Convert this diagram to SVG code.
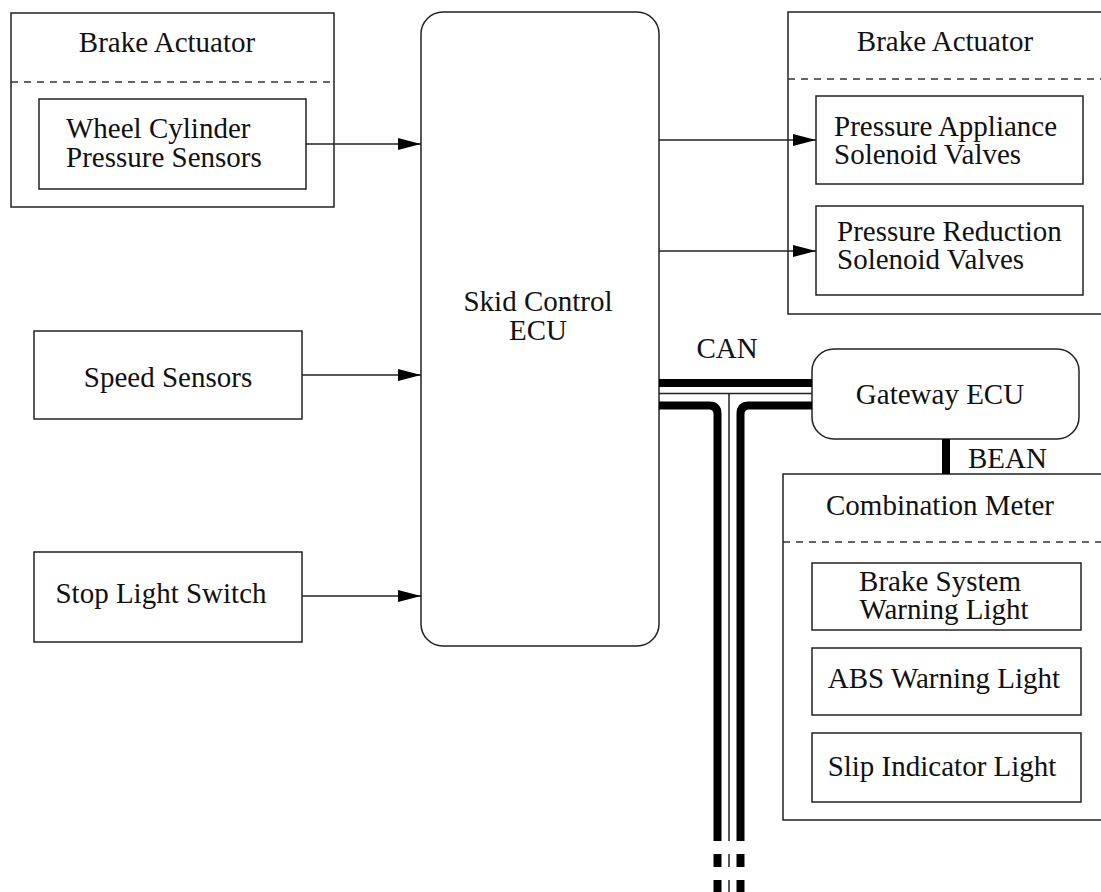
<svg xmlns="http://www.w3.org/2000/svg" width="1101" height="892" viewBox="0 0 1101 892">
<style>
.box{fill:#fff;stroke:#222;stroke-width:1.5}
.dash{fill:none;stroke:#333;stroke-width:1.3;stroke-dasharray:7,6}
.t{font-family:"Liberation Serif","Times New Roman",serif;font-size:29px;fill:#111}
.m{text-anchor:middle}
.ln{fill:none;stroke:#222;stroke-width:1.5}
.bus{fill:none;stroke:#000;stroke-width:8}
.thin{fill:none;stroke:#222;stroke-width:1.5}
</style>
<defs>
<marker id="arr" markerUnits="userSpaceOnUse" markerWidth="24" markerHeight="12" refX="23" refY="6" orient="auto">
<path d="M0,0 L23,6 L0,12 z" fill="#000"/>
</marker>
</defs>
<rect width="1101" height="892" fill="#fff"/>

<g id="brake-actuator-left">
<rect class="box" x="11" y="13" width="323" height="194"/>
<text class="t m" x="167" y="52">Brake Actuator</text>
<line class="dash" x1="11" y1="82" x2="334" y2="82"/>
</g>
<g id="wheel-cylinder">
<rect class="box" x="39" y="99" width="267" height="90"/>
<text class="t" x="66" y="138">Wheel Cylinder</text>
<text class="t" x="66" y="167">Pressure Sensors</text>
</g>
<g id="speed-sensors">
<rect class="box" x="34" y="331" width="268" height="88"/>
<text class="t m" x="168" y="387">Speed Sensors</text>
</g>
<g id="stop-light-switch">
<rect class="box" x="34" y="552" width="268" height="90"/>
<text class="t m" x="161" y="603">Stop Light Switch</text>
</g>
<g id="skid-control-ecu">
<rect class="box" x="421" y="12" width="238" height="634" rx="22" ry="22"/>
<text class="t m" x="538" y="311">Skid Control</text>
<text class="t m" x="538" y="340">ECU</text>
</g>
<g id="brake-actuator-right">
<rect class="box" x="788" y="12" width="330" height="302"/>
<text class="t m" x="945" y="51">Brake Actuator</text>
<line class="dash" x1="788" y1="79" x2="1101" y2="79"/>
</g>
<g id="pressure-appliance">
<rect class="box" x="816" y="96" width="267" height="88"/>
<text class="t" x="834" y="136">Pressure Appliance</text>
<text class="t" x="834" y="164">Solenoid Valves</text>
</g>
<g id="pressure-reduction">
<rect class="box" x="816" y="206" width="267" height="89"/>
<text class="t" x="837" y="241">Pressure Reduction</text>
<text class="t" x="837" y="269">Solenoid Valves</text>
</g>
<g id="gateway-ecu">
<rect class="box" x="812" y="349" width="267" height="90" rx="22" ry="22"/>
<text class="t m" x="940" y="404">Gateway ECU</text>
</g>
<g id="combination-meter">
<rect class="box" x="783" y="474" width="335" height="346"/>
<text class="t m" x="940" y="515">Combination Meter</text>
<line class="dash" x1="783" y1="542" x2="1101" y2="542"/>
</g>
<g id="brake-system-warning">
<rect class="box" x="812" y="563" width="269" height="67"/>
<text class="t m" x="940" y="591">Brake System</text>
<text class="t m" x="944" y="619">Warning Light</text>
</g>
<g id="abs-warning">
<rect class="box" x="812" y="648" width="269" height="67"/>
<text class="t m" x="944" y="688">ABS Warning Light</text>
</g>
<g id="slip-indicator">
<rect class="box" x="812" y="733" width="269" height="69"/>
<text class="t m" x="942" y="776">Slip Indicator Light</text>
</g>

<g id="connectors">
<line class="ln" x1="306" y1="144" x2="421" y2="144" marker-end="url(#arr)"/>
<line class="ln" x1="302" y1="375" x2="421" y2="375" marker-end="url(#arr)"/>
<line class="ln" x1="302" y1="596" x2="421" y2="596" marker-end="url(#arr)"/>
<line class="ln" x1="659" y1="140" x2="816" y2="140" marker-end="url(#arr)"/>
<line class="ln" x1="659" y1="251" x2="816" y2="251" marker-end="url(#arr)"/>
<!-- CAN bus -->
<line class="bus" x1="659" y1="383" x2="812" y2="383" stroke-width="7"/>
<line class="thin" x1="659" y1="393.5" x2="812" y2="393.5"/>
<line class="thin" x1="729" y1="393.5" x2="729" y2="841"/>
<path class="bus" stroke-width="7.5" d="M659,405.5 H709 Q717.5,405.5 717.5,414 V841"/>
<path class="bus" stroke-width="7.5" d="M812,405.5 H749 Q740.5,405.5 740.5,414 V841"/>
<line class="bus" stroke-width="7.5" x1="717.5" y1="854" x2="717.5" y2="867"/>
<line class="bus" stroke-width="7.5" x1="740.5" y1="854" x2="740.5" y2="867"/>
<line class="thin" x1="729" y1="854" x2="729" y2="867"/>
<line class="bus" stroke-width="7.5" x1="717.5" y1="880" x2="717.5" y2="892"/>
<line class="bus" stroke-width="7.5" x1="740.5" y1="880" x2="740.5" y2="892"/>
<line class="thin" x1="729" y1="880" x2="729" y2="892"/>
<text class="t m" x="727" y="358">CAN</text>
<!-- BEAN -->
<line class="bus" stroke-width="13" x1="946" y1="439" x2="946" y2="474"/>
<text class="t" x="968" y="468">BEAN</text>
</g>
</svg>
